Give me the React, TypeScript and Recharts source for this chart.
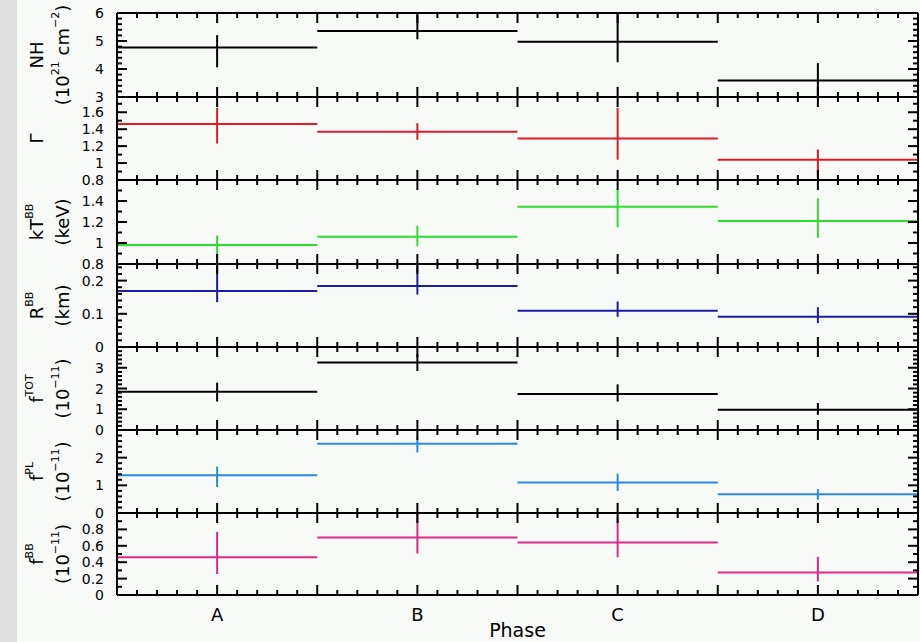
import React from 'react'
import { ComposedChart, Scatter, ErrorBar, XAxis, YAxis } from 'recharts'

// phase bins along the x axis
const PHASES = ['A', 'B', 'C', 'D']

// absorption column, 10^21 cm^-2
const nhVal = [4.77, 5.36, 4.97, 3.59]
const nhLow = [4.06, 5.06, 4.24, 3.0]
const nhHigh = [5.21, 5.95, 6.0, 4.21]

// photon index
const gammaVal = [1.46, 1.37, 1.29, 1.04]
const gammaLow = [1.23, 1.275, 1.04, 0.81]
const gammaHigh = [1.65, 1.47, 1.65, 1.16]

// blackbody temperature, keV
const ktVal = [0.98, 1.06, 1.345, 1.21]
const ktLow = [0.86, 0.97, 1.15, 1.05]
const ktHigh = [1.07, 1.165, 1.51, 1.425]

// blackbody radius, km
const rbbVal = [0.169, 0.184, 0.109, 0.091]
const rbbLow = [0.135, 0.158, 0.091, 0.072]
const rbbHigh = [0.245, 0.245, 0.137, 0.12]

// fluxes, 10^-11
const ftotVal = [1.84, 3.25, 1.74, 0.98]
const ftotLow = [1.37, 2.84, 1.37, 0.73]
const ftotHigh = [2.28, 3.66, 2.2, 1.3]

const fplVal = [1.36, 2.5, 1.1, 0.68]
const fplLow = [0.94, 2.19, 0.8, 0.48]
const fplHigh = [1.68, 2.76, 1.42, 0.86]

const fbbVal = [0.46, 0.7, 0.64, 0.275]
const fbbLow = [0.255, 0.506, 0.46, 0.165]
const fbbHigh = [0.77, 0.99, 0.95, 0.465]

// labelled y ticks per panel
const nhTicks = [3, 4, 5, 6]
const gammaTicks = [0.8, 1, 1.2, 1.4, 1.6]
const ktTicks = [0.8, 1, 1.2, 1.4]
const rbbTicks = [0, 0.1, 0.2]
const ftotTicks = [0, 1, 2, 3]
const fplTicks = [0, 1, 2]
const fbbTicks = [0, 0.2, 0.4, 0.6, 0.8]

const W = 920
const LEFT = 117
const RIGHT = 2
const PAD = 12
const BOTTOM_PAD = 47
const FONT = '"DejaVu Sans", sans-serif'

const range = (min: number, max: number, step: number) => {
  const out: number[] = []
  const n = Math.round((max - min) / step)
  for (let i = 0; i <= n; i++) out.push(+(min + i * step).toFixed(4))
  return out.filter(v => v <= max + 1e-9)
}

const near = (a: number, b: number) => Math.abs(a - b) < 1e-6
const fmt = (v: number) => String(+v.toFixed(2))

// text runs: [text, superscript?]
type Run = [string, boolean]
const SUP_SHIFT = 7

function RichText({ runs }: { runs: Run[] }) {
  let raised = false
  return (
    <>
      {runs.map(([s, up], i) => {
        const dy = up === raised ? 0 : up ? -SUP_SHIFT : SUP_SHIFT
        raised = up
        return (
          <tspan key={i} dy={dy} fontSize={up ? 11 : undefined}>{s}</tspan>
        )
      })}
    </>
  )
}

const X_TICKS = range(0, 4, 0.1)

function XTick(props: any) {
  const { x, y, payload, side, showLabels } = props
  const v = payload.value as number
  const major = near(v * 2, Math.round(v * 2))
  const len = major ? 10 : 5
  const dir = side === 'bottom' ? -1 : 1
  const isCenter = near(v - Math.floor(v), 0.5)
  const label = showLabels && isCenter ? PHASES[Math.floor(v)] : null
  return (
    <g>
      <line x1={x} x2={x} y1={y} y2={y + dir * len} stroke="#000" strokeWidth={2} />
      {label && (
        <text x={x} y={y + 19} textAnchor="middle" dominantBaseline="central" fontSize={18} fontFamily={FONT} fill="#000">
          {label}
        </text>
      )}
    </g>
  )
}

function YTick(props: any) {
  const { x, y, payload, side, labels } = props
  const v = payload.value as number
  const major = labels.some((t: number) => near(t, v))
  const len = major ? 10 : 5
  const dir = side === 'left' ? 1 : -1
  return (
    <g>
      <line x1={x} x2={x + dir * len} y1={y} y2={y} stroke="#000" strokeWidth={2} />
      {side === 'left' && major && (
        <text x={x - 13} y={y} textAnchor="end" dominantBaseline="central" fontSize={14} fontFamily={FONT} fill="#000">
          {fmt(v)}
        </text>
      )}
    </g>
  )
}

function YTitle(props: any) {
  const { viewBox, title, unit } = props
  if (!viewBox) return null
  const cy = viewBox.y + viewBox.height / 2
  return (
    <g fontFamily={FONT} fontSize={18} fill="#000">
      <text transform={`translate(36, ${cy}) rotate(-90)`} textAnchor="middle" dominantBaseline="central">
        <RichText runs={title} />
      </text>
      {unit && (
        <text transform={`translate(62, ${cy}) rotate(-90)`} textAnchor="middle" dominantBaseline="central">
          <RichText runs={unit} />
        </text>
      )}
    </g>
  )
}

function PhaseLabel(props: any) {
  const { viewBox } = props
  if (!viewBox) return null
  return (
    <text x={viewBox.x + viewBox.width / 2} y={viewBox.y + 35} textAnchor="middle" dominantBaseline="central" fontSize={19} fontFamily={FONT} fill="#000">
      Phase
    </text>
  )
}

const fluxUnit: Run[] = [['(10', false], ['\u221211', true], [')', false]]

const panels = [
  {
    key: 'nh', color: '#000000', domain: [3, 6], step: 0.2, labels: nhTicks,
    val: nhVal, low: nhLow, high: nhHigh, top: 13, bottom: 97,
    title: [['NH', false]] as Run[],
    unit: [['(10', false], ['21', true], [' cm', false], ['\u22122', true], [')', false]] as Run[],
  },
  {
    key: 'gamma', color: '#dc1c28', domain: [0.8, 1.78], step: 0.1, labels: gammaTicks,
    val: gammaVal, low: gammaLow, high: gammaHigh, top: 97, bottom: 180,
    title: [['Γ', false]] as Run[], unit: null,
  },
  {
    key: 'kt', color: '#30dc30', domain: [0.8, 1.6], step: 0.1, labels: ktTicks,
    val: ktVal, low: ktLow, high: ktHigh, top: 180, bottom: 264,
    title: [['kT', false], ['BB', true]] as Run[], unit: [['(keV)', false]] as Run[],
  },
  {
    key: 'rbb', color: '#1c1ca4', domain: [0, 0.25], step: 0.02, labels: rbbTicks,
    val: rbbVal, low: rbbLow, high: rbbHigh, top: 264, bottom: 347,
    title: [['R', false], ['BB', true]] as Run[], unit: [['(km)', false]] as Run[],
  },
  {
    key: 'ftot', color: '#000000', domain: [0, 4], step: 0.2, labels: ftotTicks,
    val: ftotVal, low: ftotLow, high: ftotHigh, top: 347, bottom: 430,
    title: [['f', false], ['TOT', true]] as Run[], unit: fluxUnit,
  },
  {
    key: 'fpl', color: '#2a88e0', domain: [0, 3], step: 0.2, labels: fplTicks,
    val: fplVal, low: fplLow, high: fplHigh, top: 430, bottom: 513,
    title: [['f', false], ['PL', true]] as Run[], unit: fluxUnit,
  },
  {
    key: 'fbb', color: '#de2a86', domain: [0, 1], step: 0.1, labels: fbbTicks,
    val: fbbVal, low: fbbLow, high: fbbHigh, top: 513, bottom: 595,
    title: [['f', false], ['BB', true]] as Run[], unit: fluxUnit,
  },
]

// axes get a 1px box so they still render; margins shrink to compensate
const AX = 1

export default function App() {
  return (
    <div style={{ position: 'absolute', left: 0, top: 0, width: W, height: 642, background: '#f8faf8', overflow: 'hidden' }}>
      <div style={{ position: 'absolute', left: 0, top: 0, width: 17, height: 642, background: '#e0e0e0' }} />
      {panels.map((p, pi) => {
        const last = pi === panels.length - 1
        const h = p.bottom - p.top
        const padBottom = last ? BOTTOM_PAD : PAD
        const rows = PHASES.map((name, i) => ({
          phase: name,
          x: i + 0.5,
          y: p.val[i],
          xErr: 0.5,
          yErr: [p.val[i] - p.low[i], p.high[i] - p.val[i]],
        }))
        const yTicks = range(p.domain[0], p.domain[1], p.step)
        return (
          <div key={p.key} style={{ position: 'absolute', left: 0, top: p.top - PAD }}>
            <ComposedChart
              width={W}
              height={h + PAD + padBottom}
              data={rows}
              margin={{ top: PAD - AX, bottom: padBottom - AX, left: LEFT - AX, right: RIGHT - AX }}
            >
              <XAxis
                xAxisId="b" dataKey="x" type="number" domain={[0, 4]} allowDataOverflow
                ticks={X_TICKS} interval={0} height={AX} tickSize={0} tickMargin={0} tickLine={false}
                axisLine={{ stroke: '#000', strokeWidth: 2 }}
                tick={(tp: any) => <XTick {...tp} side="bottom" showLabels={last} />}
                label={last ? <PhaseLabel /> : undefined}
              />
              <XAxis
                xAxisId="t" orientation="top" dataKey="x" type="number" domain={[0, 4]} allowDataOverflow
                ticks={X_TICKS} interval={0} height={AX} tickSize={0} tickMargin={0} tickLine={false}
                axisLine={{ stroke: '#000', strokeWidth: 2 }}
                tick={(tp: any) => <XTick {...tp} side="top" />}
              />
              <YAxis
                yAxisId="l" type="number" domain={p.domain} allowDataOverflow
                ticks={yTicks} interval={0} width={AX} tickSize={0} tickMargin={0} tickLine={false}
                axisLine={{ stroke: '#000', strokeWidth: 2 }}
                tick={(tp: any) => <YTick {...tp} side="left" labels={p.labels} />}
                label={<YTitle title={p.title} unit={p.unit} />}
              />
              <YAxis
                yAxisId="r" orientation="right" type="number" domain={p.domain} allowDataOverflow
                ticks={yTicks} interval={0} width={AX} tickSize={0} tickMargin={0} tickLine={false}
                axisLine={{ stroke: '#000', strokeWidth: 2 }}
                tick={(tp: any) => <YTick {...tp} side="right" labels={p.labels} />}
              />
              <Scatter
                xAxisId="b" yAxisId="l" dataKey="y" isAnimationActive={false}
                shape={() => <g />}
              >
                <ErrorBar dataKey="xErr" direction="x" width={0} stroke={p.color} strokeWidth={2} isAnimationActive={false} />
                <ErrorBar dataKey="yErr" direction="y" width={0} stroke={p.color} strokeWidth={2} isAnimationActive={false} />
              </Scatter>
            </ComposedChart>
          </div>
        )
      })}
    </div>
  )
}
